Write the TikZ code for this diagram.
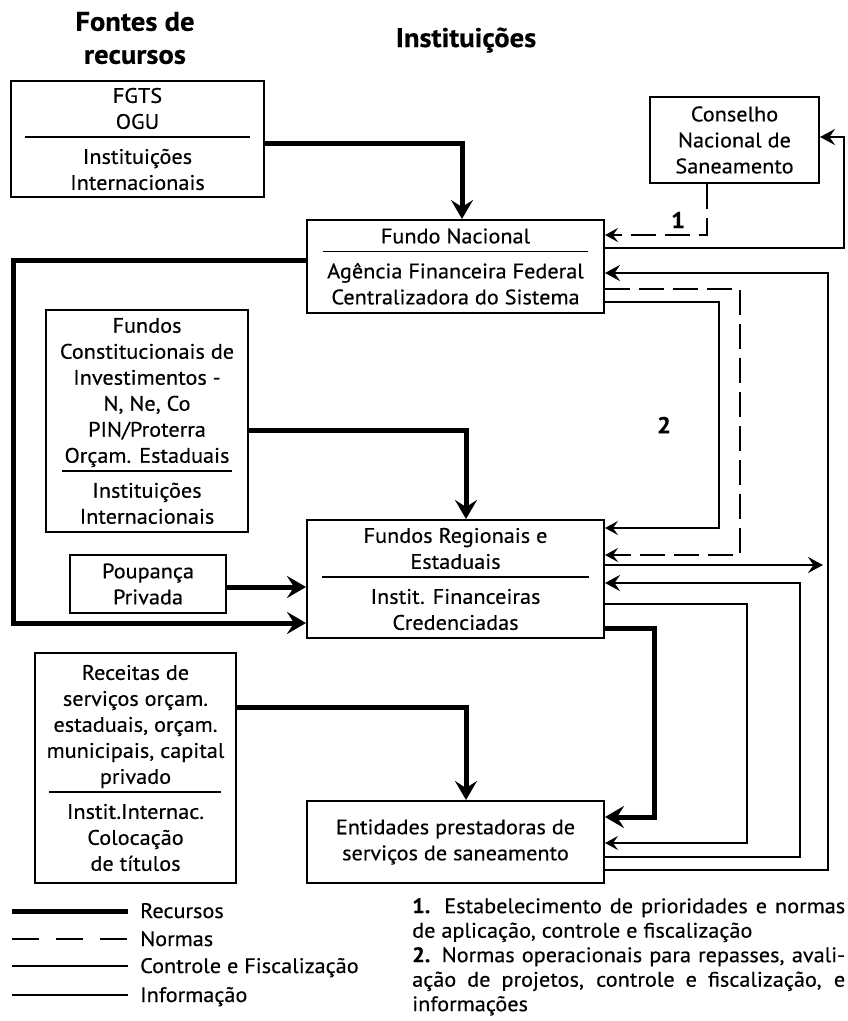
\documentclass[tikz,border=0pt]{standalone}
\usepackage{fontspec}
\setmainfont{PT Sans}[FakeStretch=1.06, FakeBold=0.4]
\usetikzlibrary{arrows.meta, positioning, calc}
\newcommand{\divider}[1]{\\[-17pt]\rule{#1}{1.6pt}\\[0pt]}

\begin{document}
\begin{tikzpicture}[x=1pt, y=-1pt, font=\fontsize{21}{26}\selectfont,
    box/.style={draw, line width=2pt, align=center, inner sep=0pt},
    head/.style={font=\fontsize{27}{33}\selectfont\bfseries, align=center},
    recurso/.style={line width=5pt, -{Stealth[length=19pt,width=22pt,inset=7pt]}},
    norma/.style={line width=2.6pt, dash pattern=on 25pt off 9pt, -{Stealth[length=13pt,width=14pt,inset=5pt]}},
    controle/.style={line width=1.2pt, -{Stealth[length=13pt,width=14pt,inset=5pt]}},
    info/.style={line width=2.9pt, -{Stealth[length=15pt,width=16pt,inset=5.5pt]}},
    legtext/.style={anchor=base west, inner sep=0pt}]
    \useasboundingbox (0,0) rectangle (847,1021);
    % Headings
    \node[head] (hfontes) at (135,38) {Fontes de\\recursos};
    \node[head, anchor=base] (hinst) at (466,47) {Instituições};
    % Sources
    \node[box, minimum width=253pt, minimum height=116pt] (fgts) at (137.5,139) {FGTS\\OGU\divider{226pt}Instituições\\Internacionais};
    \node[box, minimum width=202pt, minimum height=222pt] (fc) at (147,421) {Fundos\\Constitucionais de\\Investimentos -\\N, Ne, Co\\PIN/Proterra\\Orçam. Estaduais\divider{170pt}Instituições\\Internacionais};
    \node[box, minimum width=156pt, minimum height=58pt] (poup) at (148,584) {Poupança\\Privada};
    \node[box, minimum width=201pt, minimum height=230pt] (rec) at (135.5,768) {Receitas de\\serviços orçam.\\estaduais, orçam.\\municipais, capital\\privado\divider{172pt}Instit.Internac.\\Colocação\\de títulos};
    % Institutions
    \node[box, minimum width=169pt, minimum height=86pt] (cns) at (734.5,140) {Conselho\\Nacional de\\Saneamento};
    \node[box, minimum width=297pt, minimum height=93pt] (fn) at (455.5,266.5) {Fundo Nacional\divider{265pt}Agência Financeira Federal\\Centralizadora do Sistema};
    \node[box, minimum width=297pt, minimum height=118pt] (fr) at (455.5,579) {Fundos Regionais e\\Estaduais\divider{267pt}Instit. Financeiras\\Credenciadas};
    \node[box, minimum width=297pt, minimum height=82pt] (ent) at (455.5,842) {Entidades prestadoras de\\serviços de saneamento};
    \coordinate (leftrail) at (13,0);
    % Recursos
    \draw[recurso] ($(fgts.east)+(0,4)$) -| ($(fn.north)+(6.5,0)$);
    \draw[recurso] ($(fn.west)+(0,-6.5)$) coordinate (a) -- (a -| leftrail) |- ($(fr.west)+(0,44)$);
    \draw[recurso] ($(poup.east)+(0,3)$) coordinate (p) -- (p -| fr.west);
    \draw[recurso] ($(fc.east)+(0,9)$) -| ($(fr.north)+(10.5,0)$);
    \draw[recurso] ($(fr.east)+(0,49)$) -- ++(49,0) |- ($(ent.east)+(0,-25)$);
    \draw[recurso] ($(rec.east)+(0,-61)$) -| ($(ent.north)+(10.5,0)$);
    % Normas
    \draw[norma] ($(cns.south)+(-27.5,0)$) |- ($(fn.east)+(0,-31.5)$);
    \node[font=\fontsize{23}{26}\selectfont\bfseries] (n1) at (678,220) {1};
    \draw[norma] ($(fn.east)+(0,22.5)$) -- ++(135,0) |- ($(fr.east)+(0,-24)$);
    \node[font=\fontsize{23}{26}\selectfont\bfseries] (n2) at (664,425) {2};
    % Controle e fiscalizacao
    \draw[controle] ($(fn.east)+(0,35.5)$) -- ++(114,0) |- ($(fr.east)+(0,-51)$);
    \draw[controle] ($(fr.east)+(0,25)$) -- ++(142,0) |- ($(ent.east)+(0,1)$);
    % Informacao
    \draw[info] ($(fn.east)+(0,-18.5)$) -- ++(239,0) |- ($(cns.east)+(0,-3)$);
    \draw[info] ($(ent.east)+(0,28)$) -- ++(223,0) |- ($(fn.east)+(0,6.5)$);
    \draw[info] ($(ent.east)+(0,15)$) -- ++(195,0) |- ($(fr.east)+(0,4)$);
    \draw[info] ($(fr.east)+(0,-14)$) -- ++(218,0);
    % Legend
    \node[legtext] (lrec) at (140,918) {Recursos};
    \node[legtext] (lnor) at (140,946) {Normas};
    \node[legtext] (lcon) at (140,973) {Controle e Fiscalização};
    \node[legtext] (linf) at (140,1002) {Informação};
    \draw[recurso, -] ($(lrec.base west)+(-128,-7)$) -- ($(lrec.base west)+(-12,-7)$);
    \draw[norma, -, dash pattern=on 27pt off 17pt] ($(lnor.base west)+(-128,-7)$) -- ($(lnor.base west)+(-12,-7)$);
    \draw[controle, -] ($(lcon.base west)+(-128,-7)$) -- ($(lcon.base west)+(-12,-7)$);
    \draw[info, -] ($(linf.base west)+(-128,-7)$) -- ($(linf.base west)+(-12,-7)$);
    % Notes
    \node[anchor=north west, text width=433pt, align=justify, inner sep=0pt, font=\fontsize{21}{24.5}\selectfont] (notes) at (412,898) {\textbf{1.} Estabelecimento de prioridades e normas\linebreak de aplicação, controle e fiscalização\newline \textbf{2.} Normas operacionais para repasses, avali-\linebreak ação de projetos, controle e fiscalização, e\linebreak informações};
\end{tikzpicture}
\end{document}
